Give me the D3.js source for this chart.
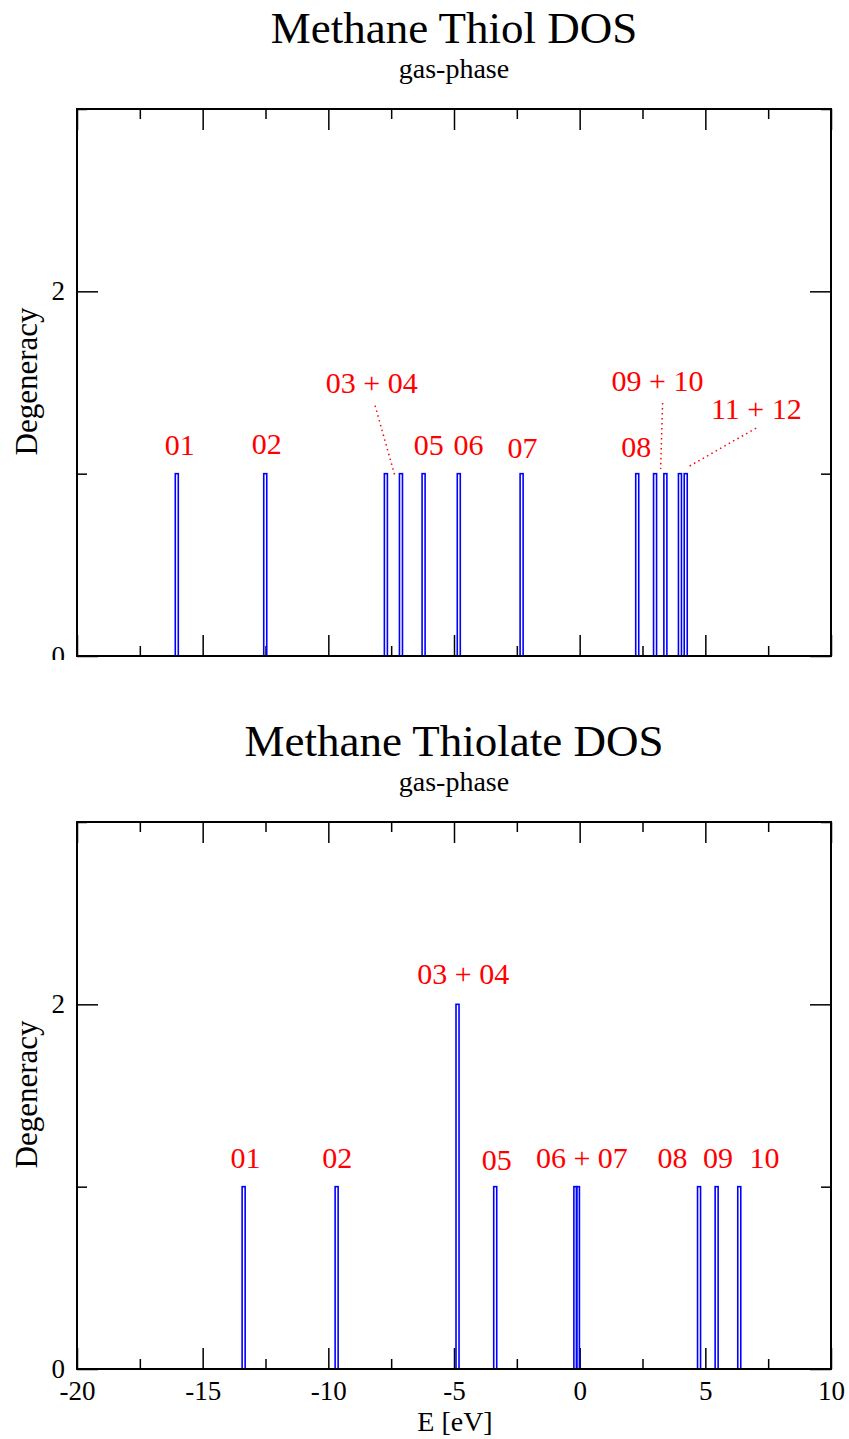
<!DOCTYPE html>
<html>
<head>
<meta charset="utf-8">
<script src="https://cdn.jsdelivr.net/npm/d3@7"></script>
<style>
  body { margin: 0; background: #fff; }
  svg { display: block; }
</style>
</head>
<body>
<svg id="chart" width="849" height="1439"></svg>
<script>
// shared axis ticks
const xMajor = [-20, -15, -10, -5, 0, 5, 10];
const xMinor = [-17.5, -12.5, -7.5, -2.5, 2.5, 7.5];
const yMajor = [0, 2];
const yMinor = [1, 3];

// methane thiol: orbital energies (eV) and degeneracy
const thiolEnergy = [-16.03, -12.51, -7.71, -7.11, -6.21, -4.81, -2.31, 2.29, 3.00, 3.41, 3.99, 4.22];
const thiolDegen  = [1, 1, 1, 1, 1, 1, 1, 1, 1, 1, 1, 1];
const thiolLabels = ['01', '02', '03 + 04', '05', '06', '07', '08', '09 + 10', '11 + 12'];
const thiolLabelE = [-15.91, -12.45, -8.27, -6.0, -4.42, -2.27, 2.25, 3.10, 7.03];
const thiolLabelD = [1.10, 1.11, 1.44, 1.10, 1.10, 1.085, 1.09, 1.455, 1.30];
// dotted leaders [E1, D1, E2, D2]
const thiolLeaders = [
  [-8.14, 1.373, -7.35, 0.987],
  [3.30, 1.388, 3.22, 1.026],
  [7.02, 1.25, 4.31, 1.037]
];

// methane thiolate
const thiolateEnergy = [-13.37, -9.67, -4.86, -3.36, -0.17, -0.07, 4.75, 5.45, 6.35];
const thiolateDegen  = [1, 1, 2, 1, 1, 1, 1, 1, 1];
const thiolateLabels = ['01', '02', '03 + 04', '05', '06 + 07', '08', '09', '10'];
const thiolateLabelE = [-13.30, -9.65, -4.63, -3.30, 0.09, 3.69, 5.50, 7.35];
const thiolateLabelD = [1.10, 1.10, 2.11, 1.09, 1.10, 1.10, 1.10, 1.10];

const FONT = '"Liberation Serif", "Times New Roman", serif';
const svg = d3.select('#chart');

const left = 77, right = 831, plotH = 547;
const x = d3.scaleLinear().domain([-20, 10]).range([left, right]);

function drawPanel(top, title, energy, degen, labels, labelE, labelD, leaders, showX) {
  const g = svg.append('g');
  // white backdrop: clips the "0" hanging from the panel above
  if (showX) {
    g.append('rect').attr('x', 0).attr('y', top - 162).attr('width', 849).attr('height', 1439)
      .attr('fill', '#fff');
  }

  const y = d3.scaleLinear().domain([0, 3]).range([top + plotH, top]);

  g.append('text').attr('x', (left + right) / 2).attr('y', top - 66)
    .attr('text-anchor', 'middle').attr('font-family', FONT).attr('font-size', 45)
    .text(title);
  g.append('text').attr('x', (left + right) / 2).attr('y', top - 31)
    .attr('text-anchor', 'middle').attr('font-family', FONT).attr('font-size', 28)
    .text('gas-phase');

  const styleAxis = (sel) => {
    sel.select('.domain').remove();
    sel.selectAll('line').attr('stroke', '#000').attr('stroke-width', 1.5);
    sel.attr('font-family', FONT).attr('font-size', 27);
    sel.selectAll('text').attr('fill', '#000');
  };

  // x ticks
  g.append('g').attr('transform', `translate(0,${top + plotH})`)
    .call(d3.axisBottom(x).tickValues(xMajor).tickSize(-21).tickPadding(12)
      .tickFormat(showX ? (d) => String(d) : () => ''))
    .call(styleAxis);
  g.append('g').attr('transform', `translate(0,${top + plotH})`)
    .call(d3.axisBottom(x).tickValues(xMinor).tickSize(-10).tickFormat(''))
    .call(styleAxis);
  g.append('g').attr('transform', `translate(0,${top})`)
    .call(d3.axisTop(x).tickValues(xMajor).tickSize(-21).tickFormat(''))
    .call(styleAxis);
  g.append('g').attr('transform', `translate(0,${top})`)
    .call(d3.axisTop(x).tickValues(xMinor).tickSize(-10).tickFormat(''))
    .call(styleAxis);

  // y ticks
  g.append('g').attr('transform', `translate(${left},0)`)
    .call(d3.axisLeft(y).tickValues(yMajor).tickSize(-21).tickPadding(12).tickFormat((d) => String(d)))
    .call(styleAxis);
  g.append('g').attr('transform', `translate(${left},0)`)
    .call(d3.axisLeft(y).tickValues(yMinor).tickSize(-10).tickFormat(''))
    .call(styleAxis);
  g.append('g').attr('transform', `translate(${right},0)`)
    .call(d3.axisRight(y).tickValues(yMajor).tickSize(-21).tickFormat(''))
    .call(styleAxis);
  g.append('g').attr('transform', `translate(${right},0)`)
    .call(d3.axisRight(y).tickValues(yMinor).tickSize(-10).tickFormat(''))
    .call(styleAxis);

  g.append('text')
    .attr('transform', `translate(37,${(top + top + plotH) / 2 - 1}) rotate(-90)`)
    .attr('text-anchor', 'middle').attr('font-family', FONT).attr('font-size', 31)
    .text('Degeneracy');

  // bars
  const data = energy.map((e, i) => ({ e, d: degen[i] }));
  g.append('g')
    .selectAll('rect')
    .data(data)
    .join('rect')
    .attr('x', (d) => x(d.e - 0.06))
    .attr('width', (d) => x(d.e + 0.06) - x(d.e - 0.06))
    .attr('y', (d) => y(d.d))
    .attr('height', (d) => y(0) - y(d.d))
    .attr('fill', 'none')
    .attr('stroke', '#0000ff')
    .attr('stroke-width', 1.6);

  // leaders
  g.append('g')
    .selectAll('line')
    .data(leaders)
    .join('line')
    .attr('x1', (d) => x(d[0])).attr('y1', (d) => y(d[1]))
    .attr('x2', (d) => x(d[2])).attr('y2', (d) => y(d[3]))
    .attr('stroke', '#ff0000').attr('stroke-width', 1.5)
    .attr('stroke-dasharray', '1.5,3.5');

  // labels
  g.append('g')
    .selectAll('text')
    .data(labels)
    .join('text')
    .attr('x', (d, i) => x(labelE[i]))
    .attr('y', (d, i) => y(labelD[i]))
    .attr('text-anchor', 'middle')
    .attr('font-family', FONT).attr('font-size', 30)
    .attr('fill', '#ff0000')
    .text((d) => d);

  // frame
  g.append('rect')
    .attr('x', left).attr('y', top).attr('width', right - left).attr('height', plotH)
    .attr('fill', 'none').attr('stroke', '#000').attr('stroke-width', 2);

  if (showX) {
    g.append('text').attr('x', 455).attr('y', top + plotH + 62)
      .attr('text-anchor', 'middle').attr('font-family', FONT).attr('font-size', 28)
      .text('E [eV]');
  }
}

drawPanel(109, 'Methane Thiol DOS', thiolEnergy, thiolDegen, thiolLabels, thiolLabelE, thiolLabelD, thiolLeaders, false);
drawPanel(822, 'Methane Thiolate DOS', thiolateEnergy, thiolateDegen, thiolateLabels, thiolateLabelE, thiolateLabelD, [], true);
</script>
</body>
</html>
